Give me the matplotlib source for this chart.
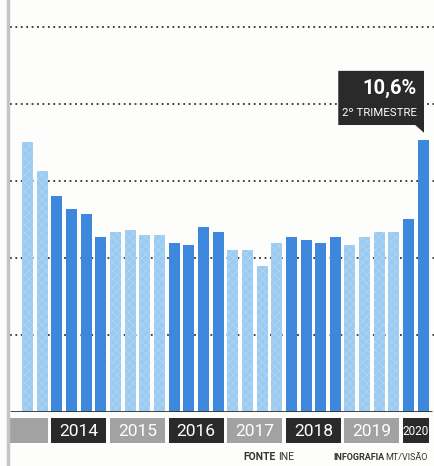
import numpy as np
import matplotlib
matplotlib.use("Agg")
import matplotlib.pyplot as plt
from matplotlib.patches import Rectangle, Polygon
from matplotlib.lines import Line2D

plt.rcParams['font.family'] = ['Roboto', 'DejaVu Sans']
plt.rcParams['hatch.linewidth'] = 0.4

# taxa trimestral, do 3º trim. 2013 ao 2º trim. 2020
anos = [2013]*2 + [2014]*4 + [2015]*4 + [2016]*4 + [2017]*4 + [2018]*4 + [2019]*4 + [2020]*2
taxa = [10.5, 9.4, 8.4, 7.9, 7.7, 6.8, 7.0, 7.1, 6.9, 6.9, 6.6, 6.5, 7.2, 7.0,
        6.3, 6.3, 5.7, 6.6, 6.8, 6.7, 6.6, 6.8, 6.5, 6.8, 7.0, 7.0, 7.5, 10.6]
anos_lbl = [2013, 2014, 2015, 2016, 2017, 2018, 2019, 2020]
grelha = [3, 6, 9, 12, 15]

azul = '#3d87dc'
azul_claro = '#9ccbf1'
escuro = '#2a2a2a'
cinza = '#a2a2a2'

W, H = 435, 466
fig = plt.figure(figsize=(W/100, H/100), dpi=100)
fig.patch.set_facecolor('#fdfdfb')

x0 = -1.194
x1 = 27.8
ax = fig.add_axes([10/W, (H-412)/H, 1-10/W, 412/H])
ax.set_xlim(x0, x1)
ax.set_ylim(0, 16.05)
ax.axis('off')

x = np.arange(len(taxa))
cores = [azul if a % 2 == 0 else azul_claro for a in anos]
barras = ax.bar(x, taxa, width=0.75, color=cores, zorder=3)
for b, a in zip(barras, anos):
    if a % 2 == 1:
        b.set_hatch('xxxx')
        b.set_edgecolor('#b6d9f5')
        b.set_linewidth(0)

for g in grelha:
    ax.axhline(g, color='#333333', lw=1.3, ls=(0, (1, 2)), zorder=1)
ax.plot([x0, 27.6], [0, 0], color='#333333', lw=2, zorder=4, solid_capstyle='butt')

# caixa de destaque sobre o último trimestre
xl, yl = x[-1], taxa[-1]
caixa = Polygon([(xl-5.8, yl+0.58), (xl-0.55, yl+0.58), (xl+0.05, yl+0.28),
                 (xl+0.05, yl+0.58), (xl+0.05, yl+2.69), (xl-5.8, yl+2.69)],
                closed=True, facecolor=escuro, edgecolor='none', zorder=5)
ax.add_patch(caixa)
ax.text(xl-0.45, yl+2.0, '10,6%', color='white', fontsize=14.5, fontweight='bold',
        ha='right', va='center', zorder=6)
ax.text(xl-0.45, yl+1.05, '2º TRIMESTRE', color='white', fontsize=8.2,
        ha='right', va='center', zorder=6)

# faixa dos anos
axa = fig.add_axes([10/W, (H-443)/H, 1-10/W, 25/H])
axa.set_xlim(x0, x1)
axa.set_ylim(0, 1)
axa.axis('off')
for ano in anos_lbl:
    idx = [k for k, a in enumerate(anos) if a == ano]
    esq = idx[0] - 0.375
    dir_ = idx[-1] + 0.375
    if ano == 2013:
        esq = x0
    cor = escuro if ano % 2 == 0 else cinza
    axa.add_patch(Rectangle((esq, 0), dir_-esq, 1, facecolor=cor, edgecolor='none'))
    if ano != 2013:
        tam = 12.5 if len(idx) == 4 else 8.5
        axa.text((esq+dir_)/2, 0.47, str(ano), color='white', fontsize=tam,
                 ha='center', va='center')

# margem cinzenta à esquerda
fig.add_artist(Line2D([8.5/W, 8.5/W], [0, 1], color='#c4c4c4', lw=2.5))

t1 = fig.text(243/W, 1-457/H, 'FONTE', fontsize=7.5, fontweight='bold', color='#333333',
              va='center')
ax.annotate('INE', xy=(1, 0.5), xycoords=t1, xytext=(2, 0), textcoords='offset points',
            fontsize=7.5, color='#333333', va='center', ha='left')
t2 = fig.text(333/W, 1-457/H, 'INFOGRAFIA', fontsize=6.5, fontweight='bold', color='#333333',
              va='center')
ax.annotate('MT/VISÃO', xy=(1, 0.5), xycoords=t2, xytext=(0.5, 0), textcoords='offset points',
            fontsize=6.5, color='#333333', va='center', ha='left')

fig.savefig('out.png', dpi=100, facecolor=fig.get_facecolor())
